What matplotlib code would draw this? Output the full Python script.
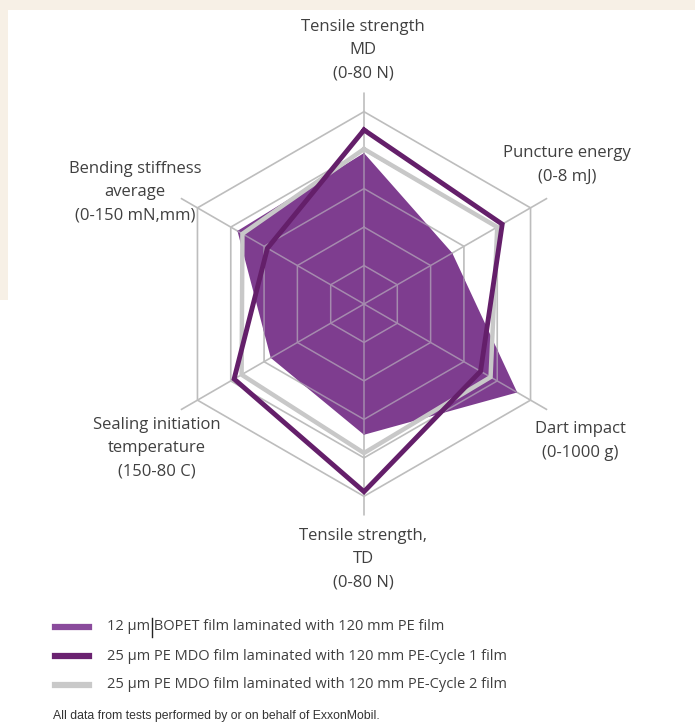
import numpy as np
import matplotlib
matplotlib.use("Agg")
import matplotlib.pyplot as plt
from matplotlib.lines import Line2D
from matplotlib.patches import Rectangle

# ---- data (fraction of each axis range) ----
axes_labels = [
    "Tensile strength\nMD\n(0-80 N)",
    "Puncture energy\n(0-8 mJ)",
    "Dart impact\n(0-1000 g)",
    "Tensile strength,\nTD\n(0-80 N)",
    "Sealing initiation\ntemperature\n(150-80 C)",
    "Bending stiffness\naverage\n(0-150 mN,mm)",
]
series_names = [
    "12 µm BOPET film laminated with 120 mm PE film",
    "25 µm PE MDO film laminated with 120 mm PE-Cycle 1 film",
    "25 µm PE MDO film laminated with 120 mm PE-Cycle 2 film",
]
bopet = [0.785, 0.53, 0.92, 0.68, 0.56, 0.76]
cycle1 = [0.905, 0.83, 0.70, 0.976, 0.78, 0.58]
cycle2 = [0.806, 0.80, 0.76, 0.775, 0.735, 0.73]
grid_levels = [0.2, 0.4, 0.6, 0.8, 1.0]
footer = "All data from tests performed by or on behalf of ExxonMobil."

W, H = 695, 727
fig = plt.figure(figsize=(W / 100, H / 100), dpi=100)
fig.patch.set_facecolor("white")

# beige background border
beige = "#f7f0e6"
fig.add_artist(Rectangle((0, 1 - 10 / H), 1, 10 / H, transform=fig.transFigure,
                         facecolor=beige, edgecolor="none", zorder=0))
fig.add_artist(Rectangle((0, 1 - 300 / H), 8 / W, 300 / H, transform=fig.transFigure,
                         facecolor=beige, edgecolor="none", zorder=0))

# polar axes placement
cx, cy, R = 364, 304, 192.3
rmax = 1.1
Rax = R * rmax
ax = fig.add_axes([(cx - Rax) / W, (H - cy - Rax) / H, 2 * Rax / W, 2 * Rax / H],
                  projection="polar")
ax.set_theta_zero_location("N")
ax.set_theta_direction(-1)
ax.set_ylim(0, rmax)
ax.grid(False)
ax.spines["polar"].set_visible(False)
ax.set_xticks([])
ax.set_yticks([])
ax.patch.set_alpha(0)

n = len(axes_labels)
theta = np.arange(n) * 2 * np.pi / n
theta_c = np.append(theta, theta[0])

gridc = "#bdbdbd"
for lv in grid_levels:
    ax.plot(theta_c, [lv] * (n + 1), color=gridc, lw=1.2, zorder=1)
for t in theta:
    ax.plot([t, t], [0, 1.105], color=gridc, lw=1.2, zorder=1)

def close(v):
    return list(v) + [v[0]]

fillc = "#7e3d8f"
poly = ax.fill(theta_c, close(bopet), color=fillc, zorder=2, lw=0)[0]
# grid visible through the fill (lighter lines), clipped to the fill polygon
inner = []
for lv in grid_levels:
    inner += ax.plot(theta_c, [lv] * (n + 1), color="#a58aae", lw=1.1, zorder=2.2)
for t in theta:
    inner += ax.plot([t, t], [0, 1.0], color="#a58aae", lw=1.1, zorder=2.2)
for ln in inner:
    ln.set_clip_path(poly)

ax.plot(theta_c, close(cycle2), color="#c8c8c8", lw=3.2, zorder=3,
        solid_joinstyle="miter")
ax.plot(theta_c, close(cycle1), color="#641f6a", lw=3.5, zorder=4,
        solid_joinstyle="miter")

# axis labels
txtc = "#404040"
lab_pos = [(363, 50), (567, 165), (580, 441), (363, 559), (157, 448), (135, 192)]
for lab, (px, py) in zip(axes_labels, lab_pos):
    fig.text(px / W, 1 - py / H, lab, ha="center", va="center", fontsize=12,
             color=txtc, family="Open Sans", linespacing=1.62)

# legend
leg_cols = ["#8a4b9c", "#6a2270", "#c9c9c9"]
leg_y = [627, 656, 685]
for name, col, y in zip(series_names, leg_cols, leg_y):
    fig.add_artist(Line2D([55 / W, 89 / W], [1 - y / H, 1 - y / H],
                          transform=fig.transFigure, color=col, lw=4.5))
    fig.text(107 / W, 1 - y / H, name, ha="left", va="center", fontsize=10.5,
             color=txtc, family="Open Sans")
# text cursor artifact
fig.add_artist(Line2D([152 / W, 152 / W], [1 - 618 / H, 1 - 637 / H],
                      transform=fig.transFigure, color="#222222", lw=1))

fig.text(53 / W, 1 - 716 / H, footer, ha="left", va="center", fontsize=8.8,
         color="#333333", family="Liberation Sans")

fig.savefig("out.png", dpi=100, facecolor=fig.get_facecolor())
